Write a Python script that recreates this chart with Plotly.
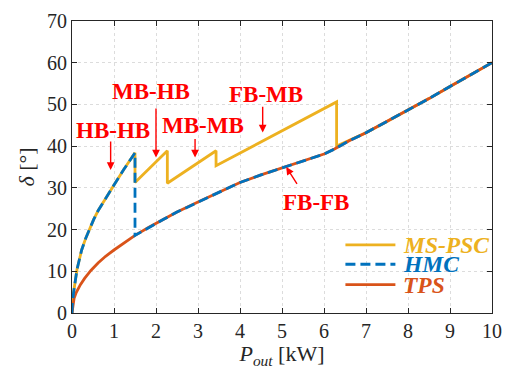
import plotly.graph_objects as go

# ---- data ----
# TPS (triple phase shift) curve
tps_x = [0, 0.02, 0.05, 0.1, 0.2, 0.3, 0.45, 0.62, 0.8, 1.0, 1.25, 1.5, 1.82, 2.17, 2.5, 3.0, 3.5,
         4.0, 4.5, 5.0, 5.5, 6.0, 6.25, 6.6, 7.0, 7.5, 8.0, 8.5, 9.0, 9.5, 10.0]
tps_y = [0, 2.0, 3.5, 4.9, 6.8, 8.3, 10.2, 12.0, 13.6, 15.1, 16.9, 18.6, 20.5, 22.4, 24.2, 26.6, 29.0,
         31.3, 33.1, 34.8, 36.5, 38.1, 39.3, 41.3, 43.2, 45.9, 48.6, 51.4, 54.3, 57.1, 60.0]

# HB-HB steep branch (shared by MS-PSC and HMC below 1.5 kW)
hb_x = [0, 0.01, 0.04, 0.08, 0.12, 0.18, 0.23, 0.33, 0.43, 0.52, 0.62, 0.8, 1.0, 1.24, 1.5]
hb_y = [0, 2.5, 5.1, 8.0, 10.5, 13.0, 15.1, 18.0, 20.5, 22.5, 24.5, 27.6, 30.7, 34.5, 38.4]

# MS-PSC saw-tooth segments after HB-HB
ms_seg_x = [1.5, 2.27, 2.27, 3.43, 3.43, 6.3, 6.3]
ms_seg_y = [31.3, 38.9, 31.1, 38.9, 35.3, 50.6, 40.0]
ms_switch = 6.3

hmc_switch = 1.5
hmc_drop_y = 18.6

# mode labels: text, x, y ; arrows: tip x, tip y, tail x, tail y
labels = ["HB-HB", "MB-HB", "MB-MB", "FB-MB", "FB-FB"]
label_x = [0.98, 1.89, 3.13, 4.61, 5.8]
label_y = [43.8, 53.0, 44.9, 52.5, 26.4]
arrow_tip_x = [0.92, 2.0, 2.93, 4.54, 5.1]
arrow_tip_y = [34.3, 37.3, 37.3, 43.3, 35.0]
arrow_tail_x = [0.92, 2.0, 2.93, 4.54, 5.38]
arrow_tail_y = [41.5, 49.4, 42.1, 49.8, 30.6]

x_ticks = list(range(0, 11))
y_ticks = list(range(0, 80, 10))

series_names = ["MS-PSC", "HMC", "TPS"]

# ---- build series ----
ms_x = hb_x + ms_seg_x + [x for x in tps_x if x > ms_switch]
ms_y = hb_y + ms_seg_y + [y for x, y in zip(tps_x, tps_y) if x > ms_switch]

hmc_x = hb_x + [hmc_switch] + [x for x in tps_x if x > hmc_switch]
hmc_y = hb_y + [hmc_drop_y] + [y for x, y in zip(tps_x, tps_y) if x > hmc_switch]

YEL = "#EDB120"
BLU = "#0072BD"
ORA = "#D95319"
FONT = "Liberation Serif"
LW = 2.8

fig = go.Figure()
fig.add_trace(go.Scatter(x=ms_x, y=ms_y, mode="lines", line=dict(color=YEL, width=LW), name=series_names[0]))
fig.add_trace(go.Scatter(x=tps_x, y=tps_y, mode="lines", line=dict(color=ORA, width=LW), name=series_names[2]))
fig.add_trace(go.Scatter(x=hmc_x, y=hmc_y, mode="lines", line=dict(color=BLU, width=LW, dash="10px,5px"),
                         name=series_names[1]))

for t, lx, ly in zip(labels, label_x, label_y):
    fig.add_annotation(x=lx, y=ly, xref="x", yref="y", text="<b>%s</b>" % t, showarrow=False,
                       font=dict(family=FONT, size=23, color="#FF0000"))
for tx, ty, ax, ay in zip(arrow_tip_x, arrow_tip_y, arrow_tail_x, arrow_tail_y):
    fig.add_annotation(x=tx, y=ty, ax=ax, ay=ay, xref="x", yref="y", axref="x", ayref="y",
                       text="", showarrow=True, arrowhead=2, arrowsize=1.1, arrowwidth=1.4,
                       arrowcolor="#FF0000", standoff=0, startstandoff=0)

# custom legend (compact rows like the reference)
leg_colors = [YEL, BLU, ORA]
leg_dash = ["solid", "dash", "solid"]
leg_rows = [0.233, 0.167, 0.0975]
for name, col, dsh, ry in zip(series_names, leg_colors, leg_dash, leg_rows):
    fig.add_shape(type="line", xref="paper", yref="paper", x0=0.651, x1=0.770, y0=ry, y1=ry,
                  line=dict(color=col, width=LW, dash="10px,5px" if dsh == "dash" else "solid"))
    fig.add_annotation(x=0.784, y=ry, xref="paper", yref="paper", xanchor="left", yanchor="middle",
                       text="<b><i>%s</i></b>" % name, showarrow=False,
                       font=dict(family=FONT, size=23.5, color=col))

axis_common = dict(showline=True, linecolor="#262626", linewidth=1, mirror="ticks",
                   ticks="inside", ticklen=5, tickcolor="#262626",
                   showgrid=True, gridcolor="#DCDCDC", griddash="dot", gridwidth=1,
                   zeroline=False, tickfont=dict(family=FONT, size=20, color="#262626"))

fig.update_xaxes(range=[0, 10], tickvals=x_ticks, **axis_common,
                 title=dict(text="<i>P</i><sub><i>out</i></sub> [kW]",
                            font=dict(family=FONT, size=22, color="#262626"), standoff=2))
fig.update_yaxes(range=[0, 70], tickvals=y_ticks, **axis_common,
                 title=dict(text="<i>δ</i> [°]", font=dict(family=FONT, size=22, color="#262626"), standoff=6))

fig.update_layout(
    width=512, height=369,
    margin=dict(l=72, r=10, t=13, b=54),
    plot_bgcolor="white", paper_bgcolor="white",
    showlegend=False,
)

fig.write_html("out.html")
